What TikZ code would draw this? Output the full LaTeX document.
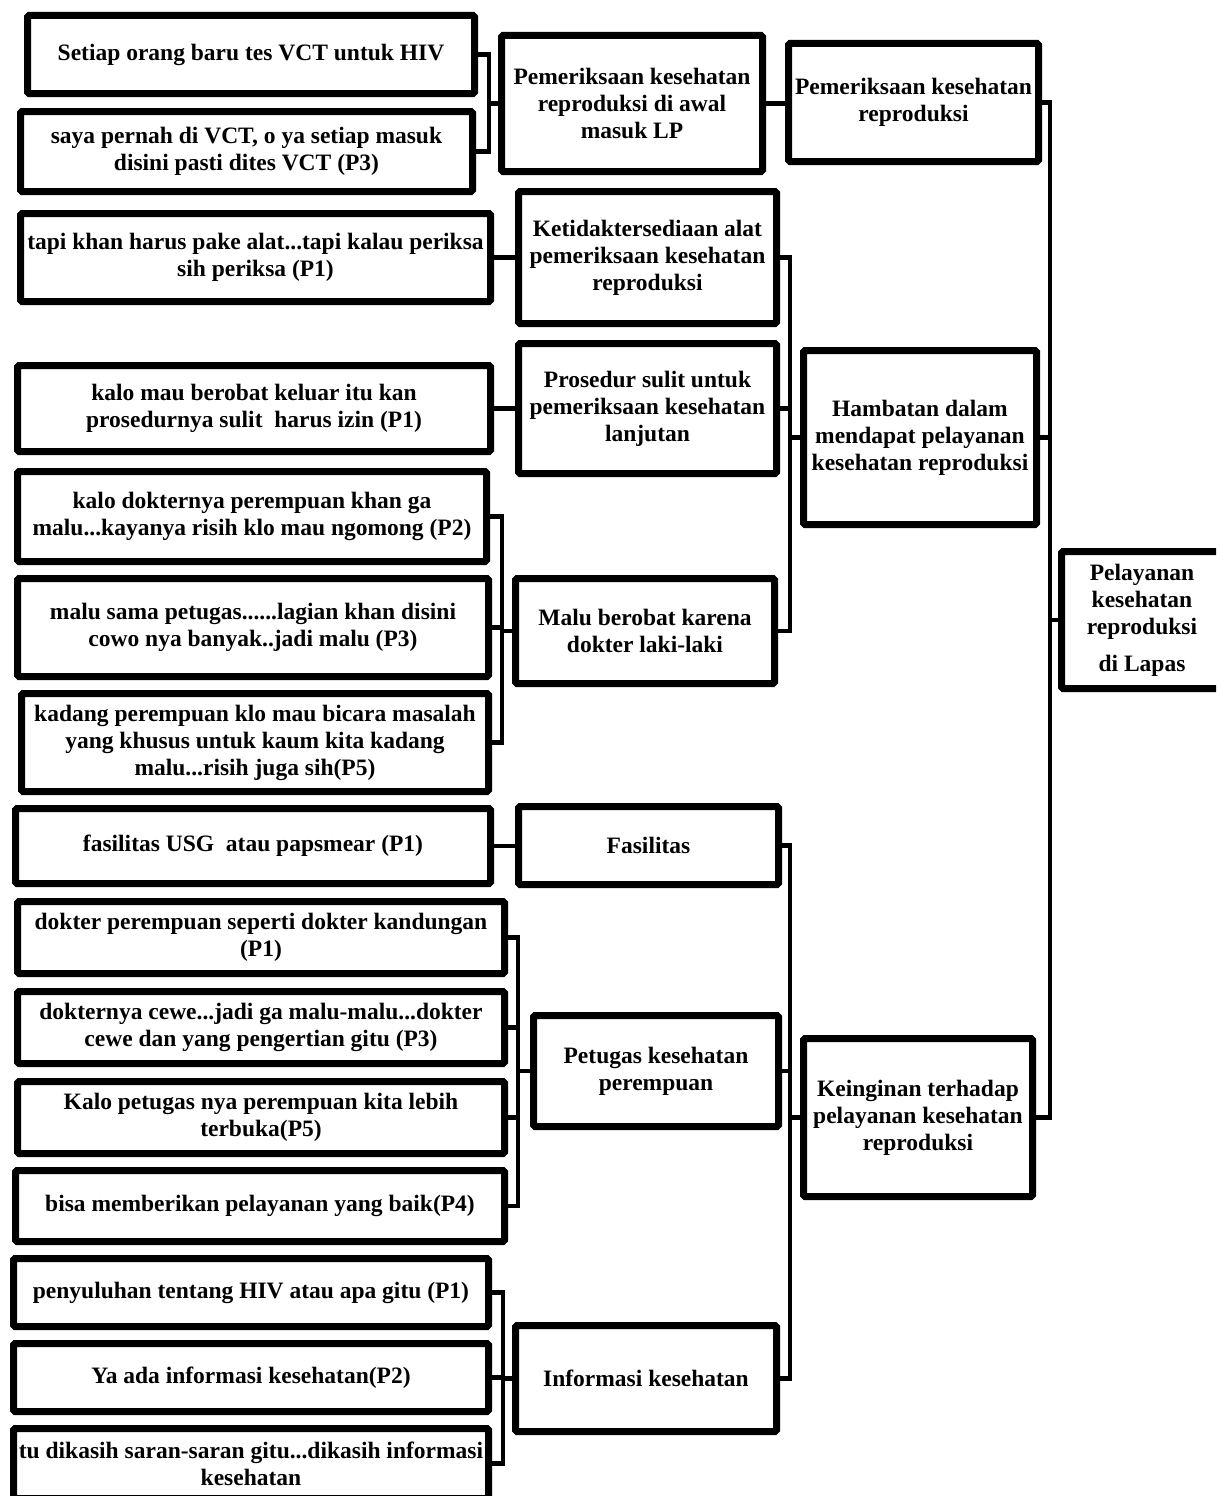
\documentclass[tikz,border=0pt]{standalone}
\usepackage{fontspec}
\setmainfont{Liberation Serif}
\newcommand\mkbox[6]{\node[box, minimum width={#4-#2-7}, minimum height={#5-#3-7}] (#1) at ({(#2+#4)/2},{(#3+#5)/2}) {#6};}
\begin{document}
\begin{tikzpicture}[x=1pt,y=-1pt,
  box/.style={draw=black, line width=7pt, rounded corners=1.5pt, fill=white, inner sep=0pt, align=center, font=\fontsize{23.5}{27}\selectfont\bfseries},
  link/.style={draw=black, line width=4.5pt, line join=miter}]
\useasboundingbox (0,0) rectangle (1216,1496);
\clip (0,0) rectangle (1216,1496);
\fill[white] (0,0) rectangle (1216,1496);
% left column
\mkbox{L1}{24}{12}{478}{97}{Setiap orang baru tes VCT untuk HIV}
\mkbox{L2}{17}{108}{476}{195}{saya pernah di VCT, o ya setiap masuk\\disini pasti dites VCT (P3)}
\mkbox{L3}{17}{210}{494}{305}{tapi khan harus pake alat...tapi kalau periksa\\sih periksa (P1)}
\mkbox{L4}{14}{362}{494}{455}{kalo mau berobat keluar itu kan\\prosedurnya sulit\ \ harus izin (P1)}
\mkbox{L5}{14}{468}{490}{565}{kalo dokternya perempuan khan ga\\malu...kayanya risih klo mau ngomong (P2)}
\mkbox{L6}{14}{575}{492}{680}{malu sama petugas......lagian khan disini\\cowo nya banyak..jadi malu (P3)}
\mkbox{L7}{18}{690}{492}{795}{kadang perempuan klo mau bicara masalah\\yang khusus untuk kaum kita kadang\\malu...risih juga sih(P5)}
\mkbox{L8}{12}{805}{494}{887}{fasilitas USG\ \ atau papsmear (P1)}
\mkbox{L9}{14}{898}{508}{977}{dokter perempuan seperti dokter kandungan\\(P1)}
\mkbox{L10}{14}{988}{508}{1067}{dokternya cewe...jadi ga malu-malu...dokter\\cewe dan yang pengertian gitu (P3)}
\mkbox{L11}{14}{1078}{508}{1157}{Kalo petugas nya perempuan kita lebih\\terbuka(P5)}
\mkbox{L12}{12}{1167}{508}{1245}{bisa memberikan pelayanan yang baik(P4)}
\mkbox{L13}{10}{1255}{492}{1330}{penyuluhan tentang HIV atau apa gitu (P1)}
\mkbox{L14}{10}{1340}{492}{1415}{Ya ada informasi kesehatan(P2)}
\mkbox{L15}{10}{1425}{492}{1502}{tu dikasih saran-saran gitu...dikasih informasi\\kesehatan}
% middle column
\mkbox{M1}{498}{32}{766}{175}{Pemeriksaan kesehatan\\reproduksi di awal\\masuk LP}
\mkbox{M2}{515}{188}{780}{327}{Ketidaktersediaan alat\\pemeriksaan kesehatan\\reproduksi}
\mkbox{M3}{515}{340}{780}{477}{Prosedur sulit untuk\\pemeriksaan kesehatan\\lanjutan}
\mkbox{M4}{512}{575}{778}{687}{Malu berobat karena\\dokter laki-laki}
\mkbox{M5}{515}{803}{782}{888}{Fasilitas}
\mkbox{M6}{530}{1012}{782}{1130}{Petugas kesehatan\\perempuan}
\mkbox{M7}{512}{1322}{780}{1435}{Informasi kesehatan}
% right column
\mkbox{R1}{785}{40}{1042}{165}{Pemeriksaan kesehatan\\reproduksi}
\mkbox{R2}{800}{347}{1040}{528}{Hambatan dalam\\mendapat pelayanan\\kesehatan reproduksi}
\mkbox{R3}{800}{1035}{1036}{1200}{Keinginan terhadap\\pelayanan kesehatan\\reproduksi}
\mkbox{F}{1058}{548}{1226}{692}{Pelayanan\\kesehatan\\reproduksi\\[10pt]di Lapas}
% bracket columns
\coordinate (b1) at (489,0);
\coordinate (b2) at (790,0);
\coordinate (b3) at (502,0);
\coordinate (bF) at (1050,0);
\coordinate (b4) at (518,0);
\coordinate (b5) at (790,0);
\coordinate (b6) at (503,0);
% connectors
\draw[link] (L1.east) -- (L1.east -| b1) -- (L2.east -| b1) -- (L2.east);
\draw[link] (b1 |- M1.west) -- (M1.west);
\draw[link] (M1.east) -- (M1.east -| R1.west);
\draw[link] (L3.east) -- (L3.east -| M2.west);
\draw[link] (L4.east) -- (L4.east -| M3.west);
\draw[link] (M2.east) -- (M2.east -| b2) -- (M4.east -| b2) -- (M4.east);
\draw[link] (M3.east) -- (M3.east -| b2);
\draw[link] (b2 |- R2.west) -- (R2.west);
\draw[link] (L5.east) -- (L5.east -| b3) -- (L7.east -| b3) -- (L7.east);
\draw[link] (L6.east) -- (L6.east -| b3);
\draw[link] (b3 |- M4.west) -- (M4.west);
\draw[link] (R1.east) -- (R1.east -| bF) -- (R3.east -| bF) -- (R3.east);
\draw[link] (R2.east) -- (R2.east -| bF);
\draw[link] (bF |- F.west) -- (F.west);
\draw[link] (L8.east) -- (L8.east -| M5.west);
\draw[link] (L9.east) -- (L9.east -| b4) -- (L12.east -| b4) -- (L12.east);
\draw[link] (L10.east) -- (L10.east -| b4);
\draw[link] (L11.east) -- (L11.east -| b4);
\draw[link] (b4 |- M6.west) -- (M6.west);
\draw[link] (M5.east) -- (M5.east -| b5) -- (M7.east -| b5) -- (M7.east);
\draw[link] (M6.east) -- (M6.east -| b5);
\draw[link] (b5 |- R3.west) -- (R3.west);
\draw[link] (L13.east) -- (L13.east -| b6) -- (L15.east -| b6) -- (L15.east);
\draw[link] (L14.east) -- (L14.east -| b6);
\draw[link] (b6 |- M7.west) -- (M7.west);
\end{tikzpicture}
\end{document}
